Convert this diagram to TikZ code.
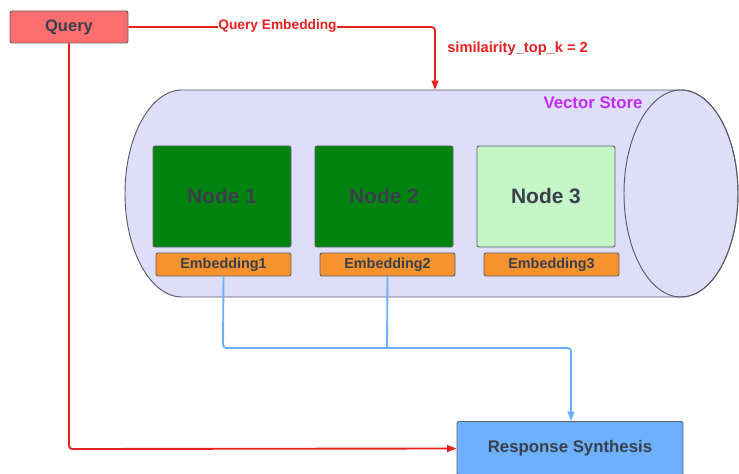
\documentclass[tikz,border=0pt]{standalone}
\usepackage{fontspec}
\setmainfont{Liberation Sans}
\usetikzlibrary{arrows.meta}
\definecolor{inkgray}{HTML}{3A3F4A}
\definecolor{edgegray}{HTML}{5E6068}
\definecolor{qred}{HTML}{FF6E6E}
\definecolor{linered}{HTML}{E82020}
\definecolor{storefill}{HTML}{DEDEFB}
\definecolor{storeedge}{HTML}{5A5A66}
\definecolor{storepurple}{HTML}{C22AF5}
\definecolor{darkgreen}{HTML}{00840F}
\definecolor{lightgreen}{HTML}{C4F6C8}
\definecolor{embOrange}{HTML}{F7932F}
\definecolor{lineblue}{HTML}{6AAEFF}
\definecolor{respblue}{HTML}{6CB0FF}
\tikzset{
  box/.style={draw=edgegray, line width=0.7pt, rounded corners=1.5pt,
    text=inkgray, font=\bfseries, inner sep=0pt},
  chunk/.style={box, minimum width=103.5pt, minimum height=75.75pt,
    font=\bfseries\fontsize{15.7}{18}\selectfont},
  embbox/.style={box, fill=embOrange, minimum width=101.25pt, minimum height=17.25pt,
    font=\bfseries\fontsize{10.8}{12}\selectfont},
  redline/.style={draw=linered, line width=1.4pt, rounded corners=2.5pt},
  blueline/.style={draw=lineblue, line width=1.4pt, rounded corners=2.5pt},
  tip/.style={-{Triangle[length=7pt,width=5pt]}}
}
\begin{document}
\begin{tikzpicture}[x=0.75pt, y=0.75pt]
\useasboundingbox (0,0) rectangle (739,-474);

% vector store cylinder
\path[fill=storefill, draw=storeedge, line width=0.7pt]
  (182,-90) -- (681,-90)
  arc[start angle=90, end angle=-90, x radius=57, y radius=103.5]
  -- (182,-297)
  arc[start angle=270, end angle=90, x radius=57, y radius=103.5] -- cycle;
\draw[storeedge, line width=0.7pt] (681,-193.5) ellipse[x radius=57, y radius=103.5];
\node[text=storepurple, font=\bfseries\fontsize{12.6}{14}\selectfont] (store) at (593,-103) {Vector Store};

% query and response boxes
\node[box, fill=qred, minimum width=88.5pt, minimum height=24pt,
  font=\bfseries\fontsize{12.4}{14}\selectfont] (query) at (69,-27) {Query};
\node[box, fill=respblue, minimum width=169.5pt, minimum height=40.5pt,
  font=\bfseries\fontsize{12.6}{14}\selectfont] (resp) at (570,-448.5) {Response Synthesis};

% stored chunks and their embeddings
\node[chunk, fill=darkgreen] (n1) at (222,-196.5) {Node 1};
\node[chunk, fill=darkgreen] (n2) at (384,-196.5) {Node 2};
\node[chunk, fill=lightgreen] (n3) at (546,-196.5) {Node 3};
\node[embbox] (e1) at (223.5,-264.5) {Embedding1};
\node[embbox] (e2) at (387.5,-264.5) {Embedding2};
\node[embbox] (e3) at (551.5,-264.5) {Embedding3};

% query embedding into the store
\coordinate (storetop) at (435,-90);
\draw[redline, tip] (query.east) -- (435,-27) -- (storetop);
\node[fill=white, inner sep=0.6pt, text=linered,
  font=\bfseries\fontsize{10.3}{12}\selectfont] (qe) at (277.5,-26) {Query Embedding};
\node[anchor=west, inner sep=0pt, text=linered,
  font=\bfseries\fontsize{11}{12}\selectfont] (topk) at (447,-49) {similairity\_top\_k = 2};

% query passed straight to synthesis
\draw[redline, tip] (query.south) -- (69,-449) -- (resp.west);

% retrieved embeddings to synthesis
\coordinate (join) at (387,-348);
\draw[blueline] (e1.south) -- (223,-348) -- (join);
\draw[blueline] (e2.south) -- (join);
\draw[blueline, tip] (join) -- (571,-348) -- (resp.north -| 571,0);
\end{tikzpicture}
\end{document}
